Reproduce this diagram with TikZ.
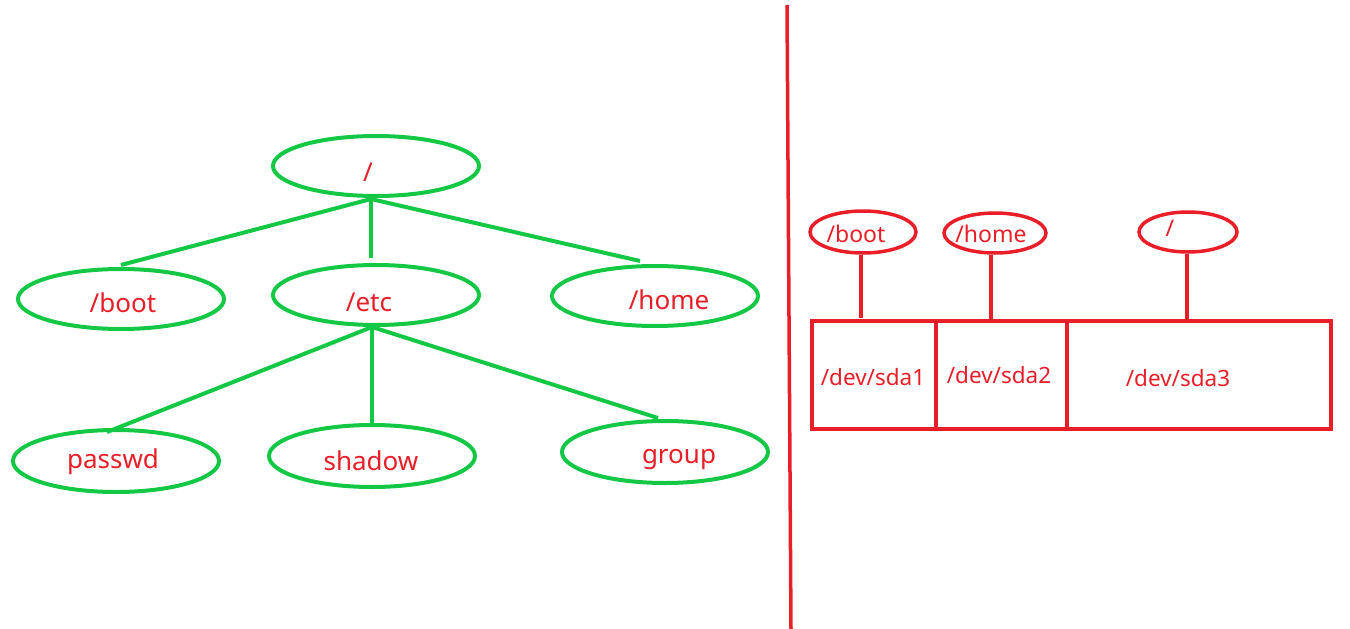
\documentclass[tikz,border=0pt]{standalone}
\usepackage{fontspec}
\setmainfont{Noto Sans}
\usetikzlibrary{shapes.geometric}
\definecolor{gr}{RGB}{20,200,70}
\definecolor{rd}{RGB}{232,30,40}
\tikzset{
  gell/.style={draw=gr,line width=4pt,ellipse,minimum width=206pt,minimum height=60pt,inner sep=0pt},
  rell/.style={draw=rd,line width=3.5pt,ellipse,inner sep=0pt},
  glink/.style={draw=gr,line width=4pt},
  rlink/.style={draw=rd,line width=3.5pt},
  ltxt/.style={text=rd,font=\fontsize{26}{30}\selectfont,inner sep=0pt},
  rtxt/.style={text=rd,font=\fontsize{22.5}{26}\selectfont,inner sep=0pt},
  etxt/.style={text=rd,font=\fontsize{23}{27}\selectfont,inner sep=0pt},
}
\begin{document}
\begin{tikzpicture}[x=1pt,y=-1pt]
\useasboundingbox (0,0) rectangle (1350,629);
% left tree
\node[gell] (root) at (376,166) {};
\node[gell] (boot) at (121,299) {};
\node[gell] (etc) at (376,295) {};
\node[gell] (home) at (655,296) {};
\node[gell,minimum height=62pt] (passwd) at (116,461) {};
\node[gell,minimum height=62pt] (shadow) at (372,456) {};
\node[gell,minimum height=62pt] (group) at (665,452) {};
\node[ltxt] (troot) at (368,172) {/};
\node[ltxt] (tboot) at (123,303) {/boot};
\node[ltxt] (tetc) at (369,302) {/etc};
\node[ltxt] (thome) at (669,300) {/home};
\node[ltxt] (tpasswd) at (113,462) {passwd};
\node[ltxt] (tshadow) at (371,461) {shadow};
\node[ltxt] (tgroup) at (679,460) {group};
\coordinate (r0) at (371,199);
\coordinate (e0) at (372,327);
\coordinate (bt) at (121,265);
\coordinate (et) at (371,258);
\coordinate (ht) at (640,261);
\coordinate (pt) at (107,432);
\coordinate (st) at (372,424);
\coordinate (gt) at (658,418);
\draw[glink] (bt) -- (r0) -- (ht);
\draw[glink] (r0) -- (et);
\draw[glink] (pt) -- (e0) -- (gt);
\draw[glink] (e0) -- (st);
% divider
\coordinate (d1) at (787,5);
\coordinate (d2) at (791,629);
\draw[rlink] (d1) -- (d2);
% right side
\node[rell,minimum width=106pt,minimum height=42pt] (rboot) at (863,232) {};
\node[rell,minimum width=102pt,minimum height=40pt] (rhome) at (995,233) {};
\node[rell,minimum width=98pt,minimum height=40pt] (rroot) at (1188,232) {};
\node[etxt] (trboot) at (856,234) {/boot};
\node[etxt] (trhome) at (991,234) {/home};
\node[etxt] (trroot) at (1170,228) {/};
\coordinate (b1) at (812,321);
\coordinate (b2) at (1331,429);
\draw[rlink] (b1) rectangle (b2);
\coordinate (v1a) at (936,323);
\coordinate (v1b) at (936,427);
\coordinate (v2a) at (1067,323);
\coordinate (v2b) at (1067,427);
\draw[rlink] (v1a) -- (v1b);
\draw[rlink] (v2a) -- (v2b);
\coordinate (c1) at (861,318);
\coordinate (c2) at (991,321);
\coordinate (c3) at (1187,321);
\draw[rlink] (rboot.south -| c1) -- (c1);
\draw[rlink] (rhome.south -| c2) -- (c2);
\draw[rlink] (rroot.south -| c3) -- (c3);
\node[rtxt] (s1) at (873,377) {/dev/sda1};
\node[rtxt] (s2) at (999,375) {/dev/sda2};
\node[rtxt] (s3) at (1178,378) {/dev/sda3};
\end{tikzpicture}
\end{document}
